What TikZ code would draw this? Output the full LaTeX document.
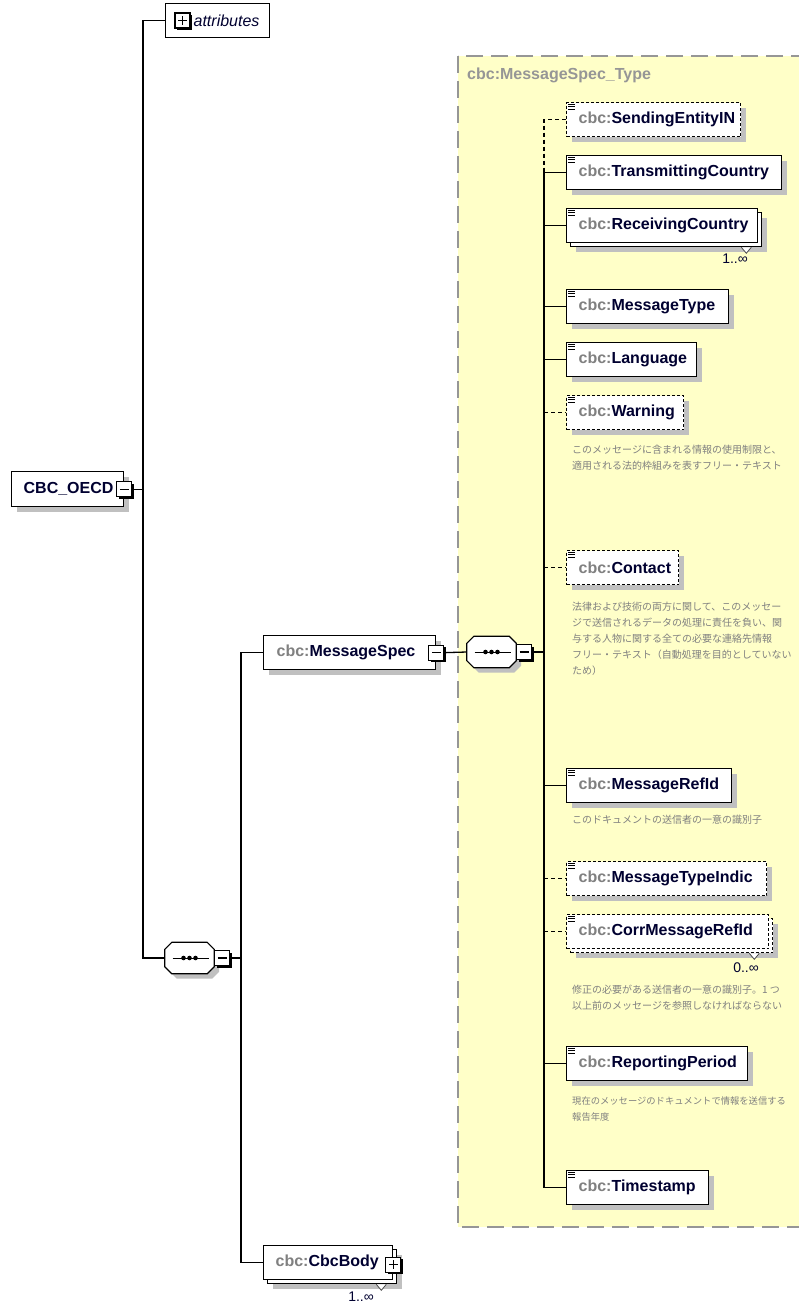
\documentclass[tikz,border=0pt]{standalone}
\usepackage{fontspec}
\setmainfont{Liberation Sans}
\newfontfamily\jpfont{Noto Sans CJK JP}
\usetikzlibrary{shadows}
\definecolor{lblnavy}{RGB}{0,0,48}
\definecolor{cbcgray}{RGB}{128,128,128}
\definecolor{titlegray}{RGB}{150,150,150}
\definecolor{shadowgray}{RGB}{192,192,192}
\definecolor{yellowbg}{RGB}{255,255,200}
\definecolor{framegray}{RGB}{150,150,150}
\definecolor{annogray}{RGB}{128,128,128}
\newcommand\cbcp{\textcolor{cbcgray}{cbc:}}
\newcommand\eqic[1]{\foreach \dy in {2,4.5,7}{\draw[line width=0.9pt] ([shift={(2pt,-\dy pt)}]#1.north west) -- ++(7,0);}}
\newcommand\chev[2]{\draw[black!70, fill=white, line width=0.8pt] ([xshift=-#2pt]#1.south east) -- ++(5,6) -- ++(5,-6);}
\begin{document}
\begin{tikzpicture}[x=1pt,y=-1pt,
  box/.style={draw=black, line width=1.3pt, fill=white, anchor=north west, minimum height=34pt,
    inner xsep=12pt, inner ysep=0pt, align=left, font=\bfseries\fontsize{16}{19}\selectfont, text=lblnavy},
  shd/.style={drop shadow={shadow xshift=5pt, shadow yshift=-5pt, fill=shadowgray, opacity=1}},
  opt/.style={dash pattern=on 3pt off 2pt},
  ann/.style={anchor=north west, inner sep=0pt, align=left, font=\jpfont\fontsize{10}{16}\selectfont, text=annogray},
  conn/.style={draw=black, line width=1.3pt},
  optconn/.style={conn, dash pattern=on 4pt off 3pt},
  icon/.style={draw=black, fill=white, line width=1.1pt, minimum size=15pt, inner sep=0pt,
    drop shadow={shadow xshift=2pt, shadow yshift=-2pt, fill=black, opacity=1}},
  minusicon/.style={icon, path picture={\draw[line width=1.1pt] ([xshift=3pt]path picture bounding box.west) -- ([xshift=-3pt]path picture bounding box.east);}},
  plusicon/.style={icon, path picture={\draw[line width=1.1pt] ([xshift=3pt]path picture bounding box.west) -- ([xshift=-3pt]path picture bounding box.east);
     \draw[line width=1.1pt] ([yshift=-3pt]path picture bounding box.north) -- ([yshift=3pt]path picture bounding box.south);}},
  compbox/.style={minimum width=49pt, minimum height=31pt, inner sep=0pt},
  octo/.style={draw=black, line width=1.2pt, fill=white, drop shadow={shadow xshift=5pt, shadow yshift=-5pt, fill=shadowgray, opacity=1}},
  mult/.style={anchor=east, inner sep=0pt, font=\fontsize{14}{16}\selectfont, text=lblnavy}
]
\useasboundingbox[fill=white] (0,0) rectangle (798,1305);

% complex type frame
\draw[fill=yellowbg, draw=framegray, line width=1.4pt, dash pattern=on 17pt off 8pt] (458,56) rectangle (812,1227);
\node[anchor=west, inner sep=0pt, font=\bfseries\fontsize{16}{19}\selectfont, text=titlegray] (title) at (467,75) {cbc:MessageSpec\_Type};

\coordinate (sA) at (143,0);
\coordinate (sB) at (241,0);
\coordinate (sC) at (544,0);

% root and left side
\node[box, text width=104pt, inner xsep=0pt, font=\itshape\fontsize{16}{19}\selectfont] (attr) at (165,3) {\hspace*{28pt}attributes};
\node[plusicon] (attrplus) at (182.5,20.5) {};
\node[box, shd, minimum height=35pt, text width=88pt] (oecd) at (11,471) {CBC\_OECD};
\node[compbox] (seq1) at (189.5,958) {};
\node[box, shd, text width=146pt, inner xsep=13pt] (ms) at (263,635) {\cbcp MessageSpec};
\node[box, shd, text width=105pt] (cbbB) at (267,1249) {};
\node[box, text width=105pt] (cbb) at (263,1245) {\cbcp CbcBody};
\node[compbox] (seq2) at (491.5,652) {};

% octagons
\foreach \c in {seq1,seq2}{
  \draw[octo] ([xshift=7pt]\c.north west) -- ([xshift=-7pt]\c.north east) -- ([yshift=-7pt]\c.north east)
    -- ([yshift=7pt]\c.south east) -- ([xshift=-7pt]\c.south east) -- ([xshift=7pt]\c.south west)
    -- ([yshift=7pt]\c.south west) -- ([yshift=-7pt]\c.north west) -- cycle;
  \draw[line width=1pt] ([xshift=-17pt]\c.center) -- ([xshift=19pt]\c.center);
  \foreach \dx in {-6,0,6}{\fill ([xshift=\dx pt]\c.center) circle (2.3pt);}
}
\node[minusicon] (oecdminus) at (oecd.east) {};
\node[minusicon] (msminus) at (ms.east) {};
\node[minusicon] (seq1minus) at ([xshift=8pt]seq1.east) {};
\node[minusicon] (seq2minus) at ([xshift=8pt]seq2.east) {};
\node[plusicon] (cbbplus) at ([yshift=-2pt]cbb.east) {};
\chev{cbbB}{21}
\node[mult] (cbbm) at (374,1297) {1..∞};

% children
\node[box, opt, shd, text width=150pt] (sei) at (566,102) {\cbcp SendingEntityIN};
\node[box, shd, text width=191pt] (tc) at (566,155) {\cbcp TransmittingCountry};
\node[box, shd, text width=167pt] (rcB) at (570,212) {};
\node[box, text width=167pt] (rc) at (566,208) {\cbcp ReceivingCountry};
\chev{rcB}{21}
\node[mult] (rcm) at (748,259) {1..∞};
\node[box, shd, text width=138pt] (mt) at (566,289) {\cbcp MessageType};
\node[box, shd, text width=106pt] (lang) at (566,342) {\cbcp Language};
\node[box, opt, shd, text width=93pt] (warn) at (566,395) {\cbcp Warning};
\node[ann] (warnann) at (572,445) {このメッセージに含まれる情報の使用制限と、\\適用される法的枠組みを表すフリー・テキスト};
\node[box, opt, shd, text width=88pt] (cont) at (566,550) {\cbcp Contact};
\node[ann] (contann) at (572,602) {法律および技術の両方に関して、このメッセー\\ジで送信されるデータの処理に責任を負い、関\\与する人物に関する全ての必要な連絡先情報\\フリー・テキスト（自動処理を目的としていない\\ため）};
\node[box, shd, text width=141pt] (mri) at (566,768) {\cbcp MessageRefId};
\node[ann] (mriann) at (572,815) {このドキュメントの送信者の一意の識別子};
\node[box, opt, shd, text width=176pt] (mti) at (566,861) {\cbcp MessageTypeIndic};
\node[box, opt, shd, text width=178pt] (cmriB) at (570,918) {};
\node[box, opt, text width=178pt] (cmri) at (566,914) {\cbcp CorrMessageRefId};
\chev{cmriB}{24}
\node[mult] (cmrim) at (759,968) {0..∞};
\node[ann] (cmriann) at (572,985) {修正の必要がある送信者の一意の識別子。1 つ\\以上前のメッセージを参照しなければならない};
\node[box, shd, text width=157pt] (rp) at (566,1046) {\cbcp ReportingPeriod};
\node[ann, font=\jpfont\fontsize{9.3}{16}\selectfont] (rpann) at (572,1096) {現在のメッセージのドキュメントで情報を送信する\\報告年度};
\node[box, shd, text width=118pt] (ts) at (566,1170) {\cbcp Timestamp};

\foreach \n in {sei,tc,rc,mt,lang,warn,cont,mri,mti,cmri,rp,ts}{\eqic{\n}}

% connectors
\draw[conn] (attr.west) -| (sA |- seq1.west) -- (seq1.west);
\draw[conn] (oecdminus.east) -- (sA |- oecdminus.east);
\draw[conn] (seq1minus.east) -- (sB |- seq1minus.east);
\draw[conn] (ms.west) -| (sB |- cbb.west) -- (cbb.west);
\draw[conn] (msminus.east) -- (seq2.west);
\draw[conn] (seq2minus.east) -- (sC |- seq2minus.east);
\draw[optconn] (sei.west) -| (sC |- tc.west);
\draw[conn] (tc.west) -| (sC |- ts.west) -- (ts.west);
\foreach \n in {rc,mt,lang,mri,rp}{\draw[conn] (sC |- \n.west) -- (\n.west);}
\foreach \n in {warn,cont,mti,cmri}{\draw[optconn] (sC |- \n.west) -- (\n.west);}
\end{tikzpicture}
\end{document}
